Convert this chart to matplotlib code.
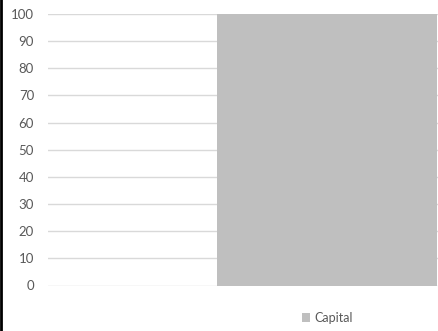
import matplotlib
matplotlib.use("Agg")
import matplotlib.pyplot as plt
from matplotlib.lines import Line2D

categories = ["Capital"]
values = [100]
yticks = [0, 10, 20, 30, 40, 50, 60, 70, 80, 90, 100]

plt.rcParams['font.family'] = ['Lato', 'DejaVu Sans']

fig = plt.figure(figsize=(4.39, 3.31), dpi=100)
ax = fig.add_axes([48/439, 45.5/331, 391/439, 271.5/331])

ax.bar([0], values, width=1.0, color="#BFBFBF", label=categories[0], zorder=2)
ax.set_xlim(-1.268, 0.509)
ax.set_ylim(0, 100)
ax.set_yticks(yticks)
ax.set_xticks([])
ax.grid(axis="y", color="#D9D9D9", linewidth=1.0, zorder=0)
for s in ax.spines.values():
    s.set_visible(False)
ax.tick_params(axis="y", length=0, pad=10, labelsize=9.5, labelcolor="#595959")

fig.legend(loc="center", bbox_to_anchor=(327/439, 1 - 318/331), frameon=False,
           fontsize=9, handlelength=0.7, handleheight=0.7, handletextpad=0.3,
           labelcolor="#595959")

fig.add_artist(Line2D([1/439, 1/439], [0, 1], color="black", linewidth=2, transform=fig.transFigure))

fig.savefig("out.png", dpi=100)
